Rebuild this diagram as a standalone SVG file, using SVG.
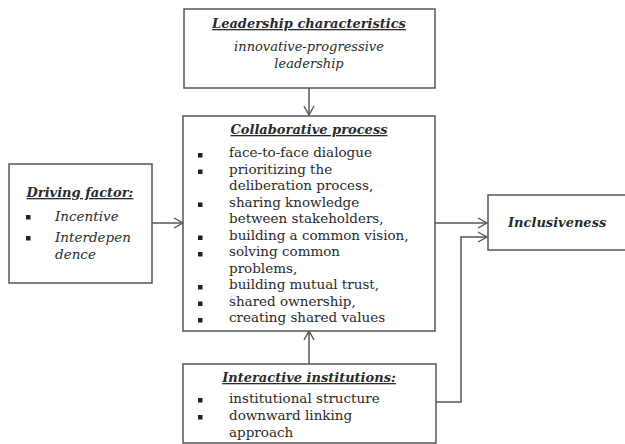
<svg xmlns="http://www.w3.org/2000/svg" width="625" height="444" viewBox="0 0 625 444">
<defs>
<style>
.box{fill:#fff;stroke:#555;stroke-width:1.5}
.ln{fill:none;stroke:#555;stroke-width:1.5}
text{font-family:"DejaVu Serif","Liberation Serif",serif;font-size:13.5px;fill:#2a2a2a}
.t{font-weight:bold;font-style:italic;text-decoration:underline;font-size:13px}
.i{font-style:italic}
.s{font-size:13px}
.b{fill:#222}
</style>
<marker id="ah" markerWidth="12" markerHeight="12" refX="10" refY="6" orient="auto" markerUnits="userSpaceOnUse">
<path d="M1,1 L10,6 L1,11" fill="none" stroke="#555" stroke-width="1.4"/>
</marker>
</defs>
<rect width="625" height="444" fill="#fff"/>
<g id="connectors">
<line class="ln" x1="309" y1="88" x2="309" y2="115" marker-end="url(#ah)"/>
<line class="ln" x1="152" y1="223" x2="183" y2="223" marker-end="url(#ah)"/>
<line class="ln" x1="309" y1="364" x2="309" y2="331" marker-end="url(#ah)"/>
<line class="ln" x1="435" y1="223" x2="487" y2="223" marker-end="url(#ah)"/>
<polyline class="ln" points="436,402 461,402 461,237 487,237" marker-end="url(#ah)"/>
</g>
<g id="leadership">
<rect class="box" x="184" y="9" width="251" height="79"/>
<text class="t" x="309" y="28" text-anchor="middle">Leadership characteristics</text>
<text class="i s" x="309" y="51" text-anchor="middle">innovative-progressive</text>
<text class="i s" x="309" y="68" text-anchor="middle">leadership</text>
</g>
<g id="collaborative">
<rect class="box" x="183" y="116" width="252" height="215"/>
<text class="t" x="309" y="134" text-anchor="middle">Collaborative process</text>
<g class="b">
<rect x="198" y="153" width="4.5" height="4.5"/>
<rect x="198" y="169.5" width="4.5" height="4.5"/>
<rect x="198" y="202.5" width="4.5" height="4.5"/>
<rect x="198" y="235.5" width="4.5" height="4.5"/>
<rect x="198" y="252" width="4.5" height="4.5"/>
<rect x="198" y="285" width="4.5" height="4.5"/>
<rect x="198" y="301.5" width="4.5" height="4.5"/>
<rect x="198" y="318" width="4.5" height="4.5"/>
</g>
<text x="229" y="157">face-to-face dialogue</text>
<text x="229" y="173.5">prioritizing the</text>
<text x="229" y="190">deliberation process,</text>
<text x="229" y="206.5">sharing knowledge</text>
<text x="229" y="223">between stakeholders,</text>
<text x="229" y="239.5">building a common vision,</text>
<text x="229" y="256">solving common</text>
<text x="229" y="272.5">problems,</text>
<text x="229" y="289">building mutual trust,</text>
<text x="229" y="305.5">shared ownership,</text>
<text x="229" y="322">creating shared values</text>
</g>
<g id="driving">
<rect class="box" x="9" y="164" width="143" height="119"/>
<text class="t" x="80" y="197" text-anchor="middle">Driving factor:</text>
<rect class="b" x="26" y="215" width="4.5" height="4.5"/>
<rect class="b" x="26" y="236" width="4.5" height="4.5"/>
<text class="i" x="55" y="221">Incentive</text>
<text class="i" x="55" y="242">Interdepen</text>
<text class="i" x="55" y="259">dence</text>
</g>
<g id="inclusiveness">
<rect class="box" x="488" y="195" width="140" height="55"/>
<text class="t" x="508" y="227" style="text-decoration:none">Inclusiveness</text>
</g>
<g id="interactive">
<rect class="box" x="183" y="364" width="253" height="79"/>
<text class="t" x="309" y="382" text-anchor="middle">Interactive institutions:</text>
<rect class="b" x="198" y="398" width="4.5" height="4.5"/>
<rect class="b" x="198" y="415" width="4.5" height="4.5"/>
<text x="229" y="403">institutional structure</text>
<text x="229" y="420">downward linking</text>
<text x="229" y="437">approach</text>
</g>
</svg>
